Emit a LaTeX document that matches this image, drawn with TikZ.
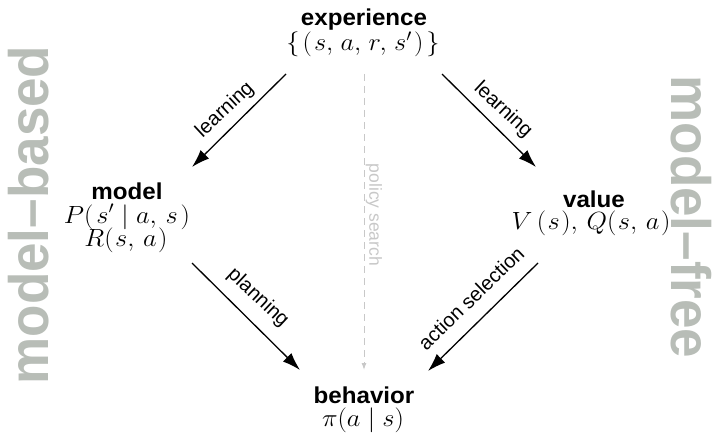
\documentclass[tikz,border=0pt]{standalone}
\usepackage{fontspec}
\usepackage{graphicx}
\setsansfont{Liberation Sans}
\usetikzlibrary{arrows.meta}
\definecolor{sidegray}{RGB}{184,189,183}
\definecolor{psgray}{RGB}{200,200,200}
\newcommand{\hstretch}[1]{\scalebox{1.06}[1]{#1}}
\newcommand{\tstretch}[1]{\scalebox{1.05}[1]{#1}}
\newcommand{\vstretch}[1]{\scalebox{1}[1.05]{#1}}
\begin{document}
\begin{tikzpicture}[x=1pt,y=-1pt,
 title/.style={font=\sffamily\bfseries\fontsize{23}{26}\selectfont, anchor=base, inner sep=0pt},
 mathlbl/.style={font=\fontsize{25}{30}\selectfont, anchor=base, inner sep=0pt},
 edgelbl/.style={font=\sffamily\fontsize{20}{23}\selectfont, inner sep=0pt},
 arr/.style={line width=1.3pt, -{Latex[length=18pt,width=12pt]}},
 psarr/.style={line width=1pt, psgray, dash pattern=on 7pt off 5pt, -{Latex[length=7pt,width=5pt]}},
 side/.style={font=\sffamily\bfseries\fontsize{53}{60}\selectfont, text=sidegray, inner sep=0pt}
]
\useasboundingbox (0,0) rectangle (719,433);
% side labels
\node[side, rotate=90] (mb) at (29,215) {\vstretch{model--based}};
\node[side, rotate=-90] (mf) at (691,217) {\vstretch{model--free}};
% nodes
\node[title] (exp) at (364,26) {\tstretch{experience}};
\node[mathlbl] (expm) at (363,51) {\hstretch{$\{\mkern2mu(\mkern1.5mu s,\mkern2mu a,\mkern2mu r,\mkern2mu s'\mkern1.5mu)\mkern2mu\}$}};
\node[title] (model) at (127,199) {\tstretch{model}};
\node[mathlbl] (modelP) at (127,223) {\hstretch{$P(\mkern2mu s'\mid a,\mkern3mu s\mkern2mu)$}};
\node[mathlbl] (modelR) at (126,246) {\hstretch{$R(\mkern1mu s,\mkern3mu a\mkern1mu)$}};
\node[title] (value) at (594,207) {\tstretch{value}};
\node[mathlbl] (valueV) at (591,229.5) {\hstretch{$V\mkern3mu(\mkern1mu s\mkern1mu),\mkern3mu Q(\mkern1mu s,\mkern3mu a\mkern1mu)$}};
\node[title] (beh) at (364,403) {\tstretch{behavior}};
\node[mathlbl] (behpi) at (363,426) {\hstretch{$\pi(a\mid s)$}};
% arrow end points
\coordinate (l1s) at (286,74);  \coordinate (l1e) at (192,167);
\coordinate (l2s) at (442,74);  \coordinate (l2e) at (536,167);
\coordinate (p1s) at (192,263); \coordinate (p1e) at (300,370);
\coordinate (a1s) at (538,263); \coordinate (a1e) at (428,371);
\coordinate (pss) at (364,74);  \coordinate (pse) at (364,370);
% arrows
\draw[arr] (l1s) -- (l1e);
\draw[arr] (l2s) -- (l2e);
\draw[arr] (p1s) -- (p1e);
\draw[arr] (a1s) -- (a1e);
\draw[psarr] (pss) -- (pse);
% edge labels
\node[edgelbl, rotate=43] (lab1) at (225,110) {learning};
\node[edgelbl, rotate=-43] (lab2) at (503,110) {learning};
\node[edgelbl, rotate=-43] (lab3) at (258,298) {planning};
\node[edgelbl, rotate=44] (lab4) at (471,298) {action selection};
\node[edgelbl, rotate=-90, text=psgray, font=\sffamily\fontsize{17.5}{20}\selectfont] (lab5) at (374,215) {policy search};
\end{tikzpicture}
\end{document}
